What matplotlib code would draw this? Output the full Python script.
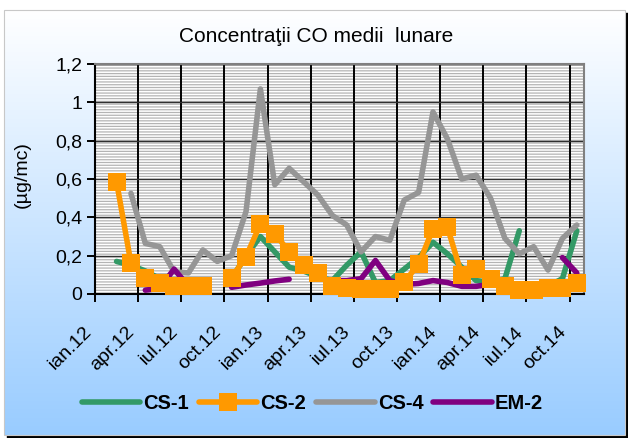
import numpy as np
import matplotlib.pyplot as plt
from matplotlib.patches import Rectangle
from matplotlib.colors import LinearSegmentedColormap

plt.rcParams['font.family'] = ['Liberation Sans', 'DejaVu Sans']
plt.rcParams['hatch.linewidth'] = 0.9

nan = np.nan

# monthly categories, ian.12 .. oct.14
month_names = ["ian", "feb", "mar", "apr", "mai", "iun",
               "iul", "aug", "sep", "oct", "noi", "dec"]
months = [m + "." + y for y in ("12", "13", "14") for m in month_names][:34]
tick_labels = ["ian.12", "apr.12", "iul.12", "oct.12", "ian.13", "apr.13",
               "iul.13", "oct.13", "ian.14", "apr.14", "iul.14", "oct.14"]

cs1 = [nan, 0.17, 0.15, 0.12, 0.08, 0.06, 0.05, 0.05, nan, 0.08, 0.20, 0.30,
       0.22, 0.14, 0.12, 0.09, 0.07, 0.15, 0.22, 0.06, 0.07, 0.13, 0.19, 0.27,
       0.21, 0.14, 0.07, 0.06, 0.08, 0.33, nan, 0.04, 0.08, 0.33]
cs2 = [nan, 0.585, 0.16, 0.085, 0.06, 0.04, 0.04, 0.04, nan, 0.085, 0.195, 0.365,
       0.315, 0.22, 0.15, 0.11, 0.04, 0.03, 0.025, 0.025, 0.025, 0.063, 0.155, 0.34,
       0.35, 0.10, 0.13, 0.08, 0.04, 0.02, 0.02, 0.03, 0.03, 0.06]
cs4 = [nan, nan, 0.525, 0.264, 0.247, 0.116, 0.11, 0.23, 0.17, 0.20, 0.43, 1.07,
       0.57, 0.656, 0.586, 0.516, 0.41, 0.36, 0.22, 0.30, 0.28, 0.49, 0.53, 0.95,
       0.81, 0.60, 0.62, 0.50, 0.29, 0.21, 0.247, 0.125, 0.29, 0.36]
em2 = [nan, nan, nan, 0.02, 0.03, 0.13, 0.04, 0.03, nan, 0.035, 0.047, 0.057,
       0.068, 0.077, nan, nan, 0.07, 0.07, 0.08, 0.175, 0.07, 0.05, 0.055, 0.07,
       0.06, 0.04, 0.04, 0.05, 0.07, nan, nan, nan, 0.19, 0.11]

fig = plt.figure(figsize=(6.28, 4.38), dpi=100)

# chart area background: shadow + gradient
bg = fig.add_axes([0, 0, 1, 1], zorder=-10)
bg.add_patch(Rectangle((7, 13), 621, 425, color='black', zorder=1))
cmap = LinearSegmentedColormap.from_list('bg', ['#ffffff', '#99ccff'])
grad = np.linspace(0, 1, 256).reshape(-1, 1)
bg.imshow(grad, extent=(4, 625, 435, 10), cmap=cmap, aspect='auto', zorder=2)
bg.add_patch(Rectangle((4, 10), 621, 425, fill=False, ec='#c8c8c8', lw=0.8,
                       zorder=3))
bg.set_xlim(0, 628)
bg.set_ylim(438, 0)
bg.axis('off')

ax = fig.add_axes([95 / 628, 1 - 294 / 438, 489 / 628, 230 / 438])
ax.add_patch(Rectangle((0, 0), 1, 1, transform=ax.transAxes, fc='white',
                       ec='#b4b4b4', lw=0, hatch='------', zorder=0.1))

x = np.arange(len(months))
style = dict(lw=4, solid_capstyle='round', solid_joinstyle='round')
ax.plot(x, cs1, color='#339966', zorder=3, label='CS-1', **style)
ax.plot(x, cs2, color='#ff9900', marker='s', ms=12.5, mew=0, zorder=6,
        clip_on=False, label='CS-2', **style)
ax.plot(x, cs4, color='#969696', zorder=4, label='CS-4', **style)
ax.plot(x, em2, color='#800080', zorder=5, label='EM-2', **style)

ax.set_xlim(-0.5, len(months) - 0.5)
ax.set_ylim(0, 1.2)
yt = np.arange(0, 1.21, 0.2)
ax.set_yticks(yt, [f"{v:g}".replace('.', ',') for v in np.round(yt, 1)])
ax.set_xticks(np.arange(0, len(months), 3) - 0.5, tick_labels,
              rotation=45, ha='right')
ax.tick_params(axis='both', direction='out', length=6, width=1.4,
               colors='black', labelsize=14)
ax.tick_params(axis='x', pad=15)
ax.tick_params(axis='y', pad=3)

ax.set_axisbelow(True)
ax.grid(axis='y', color='#303030', lw=1.0)
ax.grid(axis='x', color='black', lw=1.4)
for s in ('top', 'right'):
    ax.spines[s].set_color('#808080')
    ax.spines[s].set_linewidth(1.5)
for s in ('left', 'bottom'):
    ax.spines[s].set_color('black')
    ax.spines[s].set_linewidth(1.5)

fig.text(0.503, 1 - 37 / 438, "Concentraţii CO medii  lunare",
         ha='center', va='center', fontsize=15)
fig.text(22 / 628, 1 - 175 / 438, "(µg/mc)", rotation=90,
         ha='center', va='center', fontsize=14)

handles, labels = ax.get_legend_handles_labels()
fig.legend(handles, labels, loc='center', bbox_to_anchor=(0.4976, 0.078),
           ncol=4, frameon=False, prop={'weight': 'bold', 'size': 14.5},
           handlelength=2.9, handletextpad=0.15, columnspacing=0.5)

fig.savefig('out.png', dpi=100)
